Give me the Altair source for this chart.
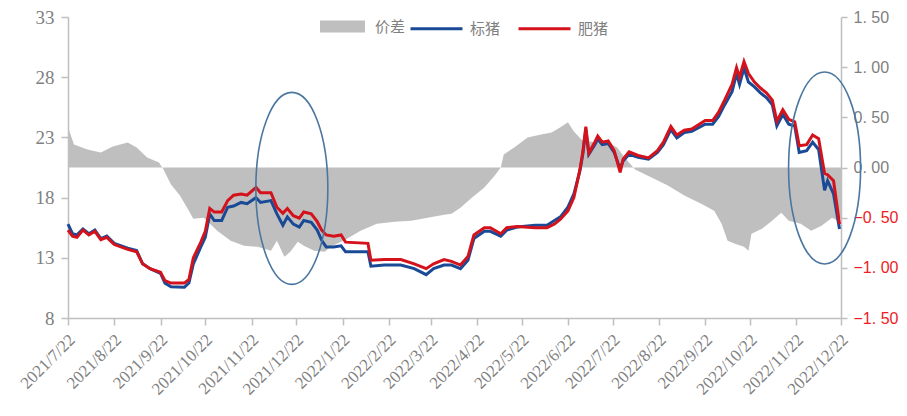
import altair as alt
import pandas as pd

# ---------------- data ----------------
price_dates = [
    "2021-07-22", "2021-07-25", "2021-07-28", "2021-08-01", "2021-08-05", "2021-08-09", "2021-08-13", "2021-08-17", "2021-08-22", "2021-08-31",
    "2021-09-06", "2021-09-10", "2021-09-15", "2021-09-22", "2021-09-25", "2021-09-29", "2021-10-08", "2021-10-11", "2021-10-14", "2021-10-19",
    "2021-10-22", "2021-10-25", "2021-10-28", "2021-11-02", "2021-11-06", "2021-11-10", "2021-11-15", "2021-11-19", "2021-11-25", "2021-11-28",
    "2021-12-05", "2021-12-09", "2021-12-13", "2021-12-16", "2021-12-20", "2021-12-24", "2021-12-27", "2022-01-01", "2022-01-05", "2022-01-08",
    "2022-01-11", "2022-01-16", "2022-01-21", "2022-01-24", "2022-02-08", "2022-02-10", "2022-02-19", "2022-03-02", "2022-03-11", "2022-03-19",
    "2022-03-24", "2022-03-31", "2022-04-05", "2022-04-11", "2022-04-16", "2022-04-20", "2022-04-27", "2022-05-01", "2022-05-08", "2022-05-12",
    "2022-05-19", "2022-05-31", "2022-06-08", "2022-06-13", "2022-06-17", "2022-06-22", "2022-06-26", "2022-06-30", "2022-07-02", "2022-07-04",
    "2022-07-06", "2022-07-10", "2022-07-12", "2022-07-15", "2022-07-19", "2022-07-23", "2022-07-27", "2022-07-29", "2022-08-02", "2022-08-08",
    "2022-08-15", "2022-08-21", "2022-08-25", "2022-08-30", "2022-09-03", "2022-09-08", "2022-09-13", "2022-09-22", "2022-09-27", "2022-10-01",
    "2022-10-05", "2022-10-10", "2022-10-13", "2022-10-15", "2022-10-18", "2022-10-21", "2022-10-25", "2022-10-29", "2022-11-02", "2022-11-06",
    "2022-11-09", "2022-11-13", "2022-11-17", "2022-11-21", "2022-11-24", "2022-11-29", "2022-12-03", "2022-12-07", "2022-12-11", "2022-12-13",
    "2022-12-17", "2022-12-21",
]

standard_pig = [
    15.8, 15.0, 14.9, 15.4, 15.0, 15.3, 14.6, 14.8, 14.2, 13.8,
    13.6, 12.5, 12.1, 11.7, 10.9, 10.6, 10.55, 10.9, 12.5, 13.9,
    14.7, 16.65, 16.1, 16.1, 17.2, 17.3, 17.6, 17.5, 18.0, 17.6,
    17.75, 16.65, 15.7, 16.4, 15.8, 15.55, 16.1, 15.95, 15.3, 14.45,
    13.9, 13.9, 14.0, 13.5, 13.5, 12.3, 12.4, 12.4, 12.1, 11.6,
    12.1, 12.4, 12.4, 12.1, 12.8, 14.6, 15.2, 15.2, 14.8, 15.3,
    15.55, 15.7, 15.7, 16.1, 16.4, 17.2, 18.3, 20.2, 21.6, 23.65,
    21.6, 22.4, 22.85, 22.4, 22.5, 21.75, 20.4, 21.05, 21.6, 21.35,
    21.2, 21.75, 22.4, 23.65, 22.95, 23.4, 23.5, 24.1, 24.1, 24.75,
    25.7, 26.8, 28.3, 27.4, 28.75, 27.6, 27.2, 26.7, 26.3, 25.7,
    23.95, 24.9, 24.1, 23.95, 21.75, 21.9, 22.6, 22.0, 18.6, 19.4,
    18.3, 15.4,
]

fat_pig = [
    15.3, 14.8, 14.7, 15.3, 14.9, 15.2, 14.5, 14.7, 14.1, 13.7,
    13.5, 12.5, 12.1, 11.8, 11.1, 10.9, 10.9, 11.2, 13.0, 14.3,
    15.2, 17.1, 16.8, 16.8, 17.75, 18.2, 18.3, 18.2, 18.85, 18.4,
    18.4, 17.2, 16.7, 17.1, 16.5, 16.3, 16.8, 16.65, 16.0, 15.3,
    14.9, 14.8, 14.9, 14.3, 14.2, 12.8, 12.85, 12.85, 12.5, 12.1,
    12.5, 12.85, 12.7, 12.4, 13.1, 14.9, 15.5, 15.5, 15.0, 15.5,
    15.6, 15.5, 15.5, 15.8, 16.2, 16.9, 18.0, 20.3, 21.8, 23.9,
    21.7, 22.6, 23.1, 22.6, 22.7, 21.9, 20.1, 21.2, 21.8, 21.5,
    21.3, 21.9, 22.6, 23.9, 23.2, 23.6, 23.7, 24.4, 24.4, 25.1,
    26.1, 27.4, 28.8, 28.0, 29.3, 28.3, 27.6, 27.1, 26.7, 26.1,
    24.35, 25.3, 24.5, 24.3, 22.3, 22.4, 23.2, 22.9, 20.0, 19.9,
    19.4, 15.8,
]

spread_dates = [
    "2021-07-22", "2021-07-26", "2021-08-04", "2021-08-13", "2021-08-21", "2021-08-31", "2021-09-06", "2021-09-13", "2021-09-21", "2021-09-24",
    "2021-09-29", "2021-10-05", "2021-10-11", "2021-10-14", "2021-10-21", "2021-10-30", "2021-11-08", "2021-11-17", "2021-11-26", "2021-12-05",
    "2021-12-09", "2021-12-14", "2021-12-18", "2021-12-23", "2021-12-27", "2022-01-03", "2022-01-10", "2022-01-14", "2022-01-25", "2022-02-03",
    "2022-02-14", "2022-02-26", "2022-03-09", "2022-03-20", "2022-03-31", "2022-04-05", "2022-04-11", "2022-04-18", "2022-04-27", "2022-05-04",
    "2022-05-08", "2022-05-10", "2022-05-17", "2022-05-26", "2022-06-04", "2022-06-11", "2022-06-17", "2022-06-22", "2022-06-26", "2022-07-01",
    "2022-07-10", "2022-07-19", "2022-07-25", "2022-07-30", "2022-08-06", "2022-08-17", "2022-08-28", "2022-09-08", "2022-09-19", "2022-09-28",
    "2022-10-03", "2022-10-07", "2022-10-12", "2022-10-18", "2022-10-21", "2022-10-23", "2022-10-30", "2022-11-05", "2022-11-12", "2022-11-17",
    "2022-11-25", "2022-12-02", "2022-12-09", "2022-12-16", "2022-12-20", "2022-12-22",
]

spread = [
    0.40, 0.23, 0.18, 0.15, 0.21, 0.25, 0.20, 0.10, 0.05, -0.02,
    -0.17, -0.28, -0.43, -0.51, -0.50, -0.63, -0.73, -0.78, -0.79, -0.83,
    -0.73, -0.89, -0.84, -0.74, -0.78, -0.83, -0.84, -0.79, -0.71, -0.63,
    -0.56, -0.54, -0.53, -0.50, -0.47, -0.46, -0.40, -0.31, -0.20, -0.08,
    0.00, 0.13, 0.20, 0.30, 0.33, 0.35, 0.40, 0.45, 0.36, 0.28,
    0.25, 0.25, 0.20, 0.10, -0.02, -0.10, -0.18, -0.28, -0.36, -0.43,
    -0.56, -0.73, -0.76, -0.79, -0.83, -0.66, -0.61, -0.54, -0.45, -0.53,
    -0.56, -0.63, -0.58, -0.50, -0.53, -0.50,
]

tick_months = [(2021, 7), (2021, 8), (2021, 9), (2021, 10), (2021, 11), (2021, 12),
               (2022, 1), (2022, 2), (2022, 3), (2022, 4), (2022, 5), (2022, 6),
               (2022, 7), (2022, 8), (2022, 9), (2022, 10), (2022, 11), (2022, 12)]

left_ticks = [8, 13, 18, 23, 28, 33]
right_ticks_pos = [0.0, 0.5, 1.0, 1.5]
right_ticks_neg = [-1.5, -1.0, -0.5]

series_names = ["价差", "标猪", "肥猪"]

ellipse_dates = ["2021-12-19", "2022-12-11"]
ellipse_values = [18.77, 20.46]

# ---------------- frames ----------------
lines_df = pd.concat([
    pd.DataFrame({"date": [d + "T00:00:00" for d in price_dates], "value": standard_pig, "series": series_names[1]}),
    pd.DataFrame({"date": [d + "T00:00:00" for d in price_dates], "value": fat_pig, "series": series_names[2]}),
], ignore_index=True)

spread_df = pd.DataFrame({"date": [d + "T00:00:00" for d in spread_dates], "value": spread, "series": series_names[0]})
ellipse_df = pd.DataFrame({"date": [d + "T00:00:00" for d in ellipse_dates], "value": ellipse_values})

GRAY_TEXT = "#808080"
AXIS_GRAY = "#bfbfbf"
NEG_RED = "#ee1c25"
RIGHT_LABEL_EXPR = "replace(format(datum.value, '.2f'), '.', '. ')"

x_scale = alt.Scale(domain=[alt.DateTime(year=2021, month=7, date=22), alt.DateTime(year=2022, month=12, date=22)])
x_axis = alt.Axis(
    values=[alt.DateTime(year=y, month=m, date=22) for (y, m) in tick_months],
    format="%Y/%-m/%-d", labelAngle=315, labelAlign="right", labelBaseline="middle",
    labelFont="Liberation Serif", labelFontSize=17, labelColor=GRAY_TEXT, labelPadding=12,
    labelOffset=4, tickSize=7, title=None, labelOverlap=False,
)
x_enc = alt.X("date:T", scale=x_scale, axis=x_axis)

# spread area, right axis (non-negative labels in gray)
area = alt.Chart(spread_df).mark_area(interpolate="linear", opacity=1).encode(
    x=x_enc,
    y=alt.Y("value:Q", scale=alt.Scale(domain=[-1.5, 1.5], nice=False, zero=False),
            axis=alt.Axis(orient="right", values=right_ticks_pos, title=None,
                          labelExpr=RIGHT_LABEL_EXPR,
                          labelFont="Liberation Sans", labelFontSize=16, tickSize=6, labelPadding=6,
                          labelColor=GRAY_TEXT)),
    y2=alt.datum(0),
    fill=alt.Fill("series:N", scale=alt.Scale(domain=[series_names[0]], range=["#bfbfbf"]),
                  legend=alt.Legend(orient="none", legendX=252, legendY=-13, title=None,
                                    symbolType="M-1,-0.267H1V0.267H-1Z", symbolSize=2025,
                                    symbolStrokeWidth=0, symbolOpacity=1, labelOffset=10,
                                    labelFont="Noto Sans CJK SC", labelFontSize=15, labelColor=GRAY_TEXT)),
)

# same spread scale again, carrying only the red negative labels of the right axis
neg_axis = alt.Chart(spread_df).mark_point(opacity=0, size=1).encode(
    x=x_enc,
    y=alt.Y("value:Q", scale=alt.Scale(domain=[-1.5, 1.5], nice=False, zero=False),
            axis=alt.Axis(orient="right", values=right_ticks_neg, title=None, domain=False,
                          labelExpr=RIGHT_LABEL_EXPR,
                          labelFont="Liberation Sans", labelFontSize=16, tickSize=6, labelPadding=6,
                          labelColor=NEG_RED)),
)

lines = alt.Chart(lines_df).mark_line(strokeWidth=3, interpolate="linear").encode(
    x=x_enc,
    y=alt.Y("value:Q", scale=alt.Scale(domain=[8, 33], nice=False, zero=False),
            axis=alt.Axis(orient="left", values=left_ticks, title=None,
                          labelFont="Liberation Serif", labelFontSize=19, labelColor=GRAY_TEXT,
                          tickSize=7, labelPadding=7)),
    stroke=alt.Stroke("series:N", scale=alt.Scale(domain=series_names[1:], range=["#1a4a95", "#d3121c"]),
                      legend=alt.Legend(orient="none", legendX=341, legendY=-16, title=None,
                                        direction="horizontal", symbolType="stroke", symbolSize=2704,
                                        symbolStrokeWidth=3, labelOffset=6, columnPadding=11,
                                        labelFont="Noto Sans CJK SC", labelFontSize=15, labelColor=GRAY_TEXT)),
    detail="series:N",
)

ellipse_path = ("M0,-1C0.2071,-1,0.375,-0.5523,0.375,0C0.375,0.5523,0.2071,1,0,1"
                "C-0.2071,1,-0.375,0.5523,-0.375,0C-0.375,-0.5523,-0.2071,-1,0,-1Z")
ellipses = alt.Chart(ellipse_df).mark_point(
    shape=ellipse_path, size=36864, filled=False, stroke="#4a76a0", strokeWidth=1.6, opacity=1
).encode(x=x_enc, y=alt.Y("value:Q"))

chart = alt.layer(area, neg_axis, alt.layer(lines, ellipses)).resolve_scale(
    y="independent", fill="independent", stroke="independent"
).properties(
    width=773, height=301,
    autosize=alt.AutoSizeParams(type="none"),
    padding={"left": 60, "top": 9, "right": 58, "bottom": 90},
).configure_axis(
    grid=False, domainColor=AXIS_GRAY, tickColor=AXIS_GRAY, domainWidth=1.5, tickWidth=1.5,
).configure_view(stroke=None)

chart.save("out.html", embed_options={"renderer": "svg", "actions": False})
